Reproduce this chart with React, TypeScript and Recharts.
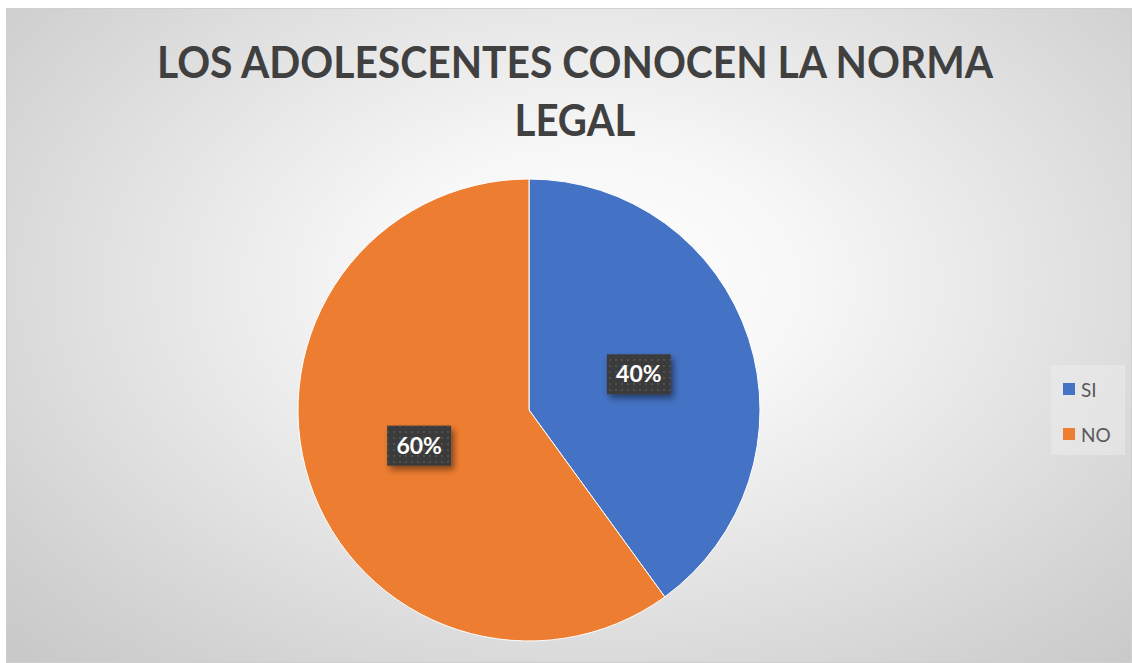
import { PieChart, Pie, Cell, Legend, Customized } from 'recharts';

const categories = ['SI', 'NO'];
const values = [40, 60];
const colors = ['#4472C4', '#ED7D31'];
const titleLines = ['LOS ADOLESCENTES CONOCEN LA NORMA', 'LEGAL'];
const titleWidths = [836, 121];

const data = categories.map((name, i) => ({ name, value: values[i], color: colors[i] }));

const W = 1126;
const H = 655;
const RAD = Math.PI / 180;

const renderLabel = (props: any) => {
  const { cx, cy, midAngle, outerRadius, percent } = props;
  const r = outerRadius * 0.5;
  const x = cx + r * Math.cos(-midAngle * RAD);
  const y = cy + r * Math.sin(-midAngle * RAD);
  const w = 64;
  const h = 40;
  return (
    <g>
      <rect x={x - w / 2} y={y - h / 2} width={w} height={h} fill="#3a3a3a" filter="url(#lblShadow)" />
      <rect x={x - w / 2} y={y - h / 2} width={w} height={h} fill="url(#dots)" />
      <text
        x={x}
        y={y + 8}
        textAnchor="middle"
        fill="#ffffff"
        fontFamily="Lato, 'Open Sans', sans-serif"
        fontWeight={700}
        fontSize={23}
      >
        {`${Math.round(percent * 100)}%`}
      </text>
    </g>
  );
};

const Title = () => (
  <g>
    <defs>
      <pattern id="dots" width="6" height="6" patternUnits="userSpaceOnUse">
        <rect x="2" y="2" width="2" height="2" fill="#505050" />
      </pattern>
      <filter id="lblShadow" x="-20%" y="-20%" width="150%" height="160%">
        <feDropShadow dx="3" dy="4" stdDeviation="3" floodColor="#000" floodOpacity="0.45" />
      </filter>
    </defs>
    {titleLines.map((line, i) => (
      <text
        key={line}
        x={568}
        y={69 + i * 58}
        textAnchor="middle"
        textLength={titleWidths[i]}
        lengthAdjust="spacingAndGlyphs"
        fill="#404040"
        fontFamily="Lato, 'Open Sans', sans-serif"
        fontWeight={700}
        fontSize={44}
      >
        {line}
      </text>
    ))}
  </g>
);

const renderLegend = () => (
  <div
    style={{
      width: 74,
      height: 90,
      background: 'rgba(240,240,240,0.45)',
      fontFamily: "Lato, 'Open Sans', sans-serif",
      fontSize: 19,
      color: '#595959',
      boxSizing: 'border-box',
      paddingTop: 12,
      paddingLeft: 12,
    }}
  >
    {data.map((d, i) => (
      <div key={d.name} style={{ display: 'flex', alignItems: 'center', height: 24, marginBottom: i === 0 ? 21 : 0 }}>
        <span style={{ width: 12, height: 12, background: d.color, display: 'inline-block', marginRight: 6 }} />
        <span>{d.name}</span>
      </div>
    ))}
  </div>
);

export default function App() {
  return (
    <div
      style={{
        position: 'absolute',
        left: 6,
        top: 8,
        width: W,
        height: H,
        boxSizing: 'border-box',
        border: '1px solid #cfcfcf',
        background:
          'radial-gradient(ellipse 75% 85% at 52% 42%, #ffffff 0%, #f7f7f7 25%, #e3e3e3 55%, #d2d2d2 80%, #c6c6c6 100%)',
      }}
    >
      <PieChart width={W - 2} height={H - 2} margin={{ top: 0, right: 0, bottom: 0, left: 0 }}>
        <Customized component={Title} />
        <Pie
          data={data}
          dataKey="value"
          nameKey="name"
          cx={522}
          cy={401}
          outerRadius={231}
          startAngle={90}
          endAngle={-270}
          stroke="#ffffff"
          strokeWidth={1}
          labelLine={false}
          label={renderLabel}
          isAnimationActive={false}
        >
          {data.map((d) => (
            <Cell key={d.name} fill={d.color} />
          ))}
        </Pie>
        <Legend content={renderLegend} wrapperStyle={{ left: 1044, top: 356, width: 74 }} />
      </PieChart>
    </div>
  );
}
